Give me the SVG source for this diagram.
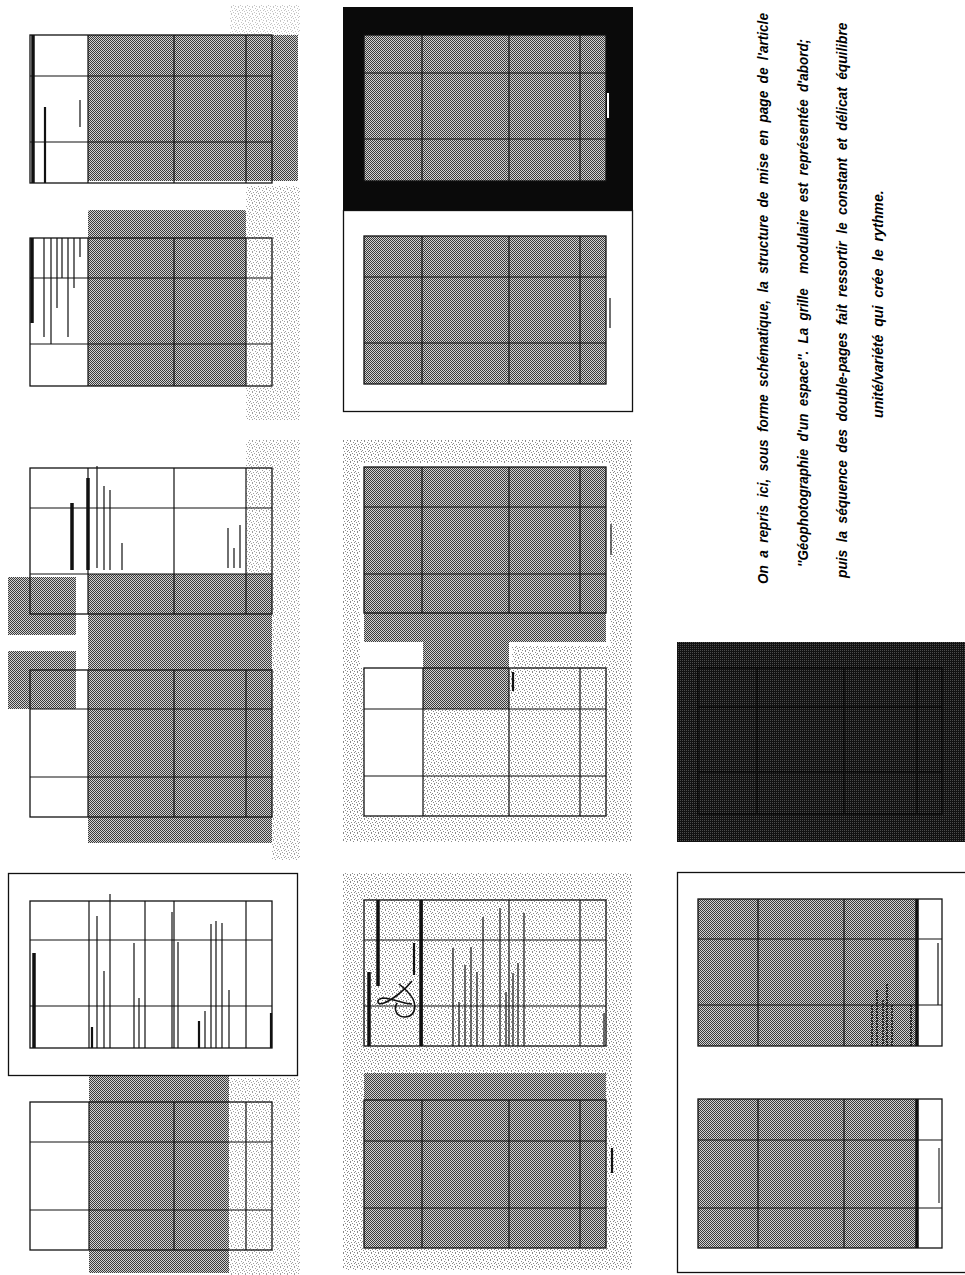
<svg xmlns="http://www.w3.org/2000/svg" width="965" height="1275" viewBox="0 0 965 1275">
<defs>
<pattern id="half" width="2" height="2" patternUnits="userSpaceOnUse"><rect width="2" height="2" fill="#d2d2d2"/><rect width="1" height="1" fill="#3a3a3a"/><rect x="1" y="1" width="1" height="1" fill="#3a3a3a"/></pattern>
<pattern id="dark" width="2" height="2" patternUnits="userSpaceOnUse"><rect width="2" height="2" fill="#121212"/><rect width="1" height="1" fill="#4c4c4c"/></pattern>
<pattern id="speck" width="7" height="7" patternUnits="userSpaceOnUse"><rect width="7" height="7" fill="#fff"/><g fill="#8a8a8a"><rect x="0" y="0" width="1" height="1"/><rect x="3" y="1" width="1" height="1"/><rect x="5" y="2" width="1" height="1"/><rect x="1" y="3" width="1" height="1"/><rect x="6" y="4" width="1" height="1"/><rect x="2" y="5" width="1" height="1"/><rect x="4" y="6" width="1" height="1"/><rect x="4" y="3" width="1" height="1"/><rect x="0" y="6" width="1" height="1"/></g></pattern>
</defs>
<style>
.sh{fill:url(#half)}
.dk{fill:url(#dark)}
.sp{fill:url(#speck)}
.pg{fill:none;stroke:#111;stroke-width:1.3}
.gl{fill:none;stroke:#111;stroke-width:1.2}
.b1{stroke:#111;stroke-width:1.2;fill:none}
.b2{stroke:#111;stroke-width:2.2;fill:none}
.b3{stroke:#111;stroke-width:3.5;fill:none}
.tx{font-family:"Liberation Sans",Arial,sans-serif;font-size:15px;font-weight:bold;font-style:italic;fill:#000;word-spacing:4px}
</style>
<rect width="965" height="1275" fill="#fff"/>

<!-- Column 1 -->
<g id="spread-1">
<rect class="sp" x="230" y="5" width="70" height="30" opacity="0.5"/>
<rect class="sh" x="88" y="35" width="210" height="146"/>
<rect class="pg" x="30" y="35" width="242" height="148"/>
<path class="gl" d="M88 35V183M174 35V183M246 35V183M30 76H272M30 142H272"/>
<path class="b3" d="M33 35V183"/>
<path class="b2" d="M45 107V183"/>
<path class="b1" d="M80 100V127"/>
</g>

<g id="spread-2">
<rect class="sp" x="246" y="186" width="54" height="234" opacity="0.8"/>
<rect class="sh" x="88" y="210" width="158" height="176" rx="2"/>
<rect class="pg" x="30" y="238" width="242" height="148"/>
<path class="gl" d="M88 238V386M174 238V386M246 238V386M30 278H272M30 344H272"/>
<path class="b3" d="M32 238V323"/>
<path class="b1" d="M44 238V337M51 238V344M57 238V308M62 238V278M68 238V337M74 238V288M80 238V257"/>
</g>

<g id="spread-3">
<rect class="sp" x="246" y="440" width="54" height="134" opacity="0.8"/>
<rect class="sp" x="272" y="574" width="28" height="286" opacity="0.8"/>
<rect class="sh" x="88" y="574" width="184" height="269"/>
<rect class="sh" x="8" y="577" width="68" height="58"/>
<rect class="sh" x="8" y="651" width="68" height="58"/>
<rect class="pg" x="30" y="468" width="242" height="146"/>
<path class="gl" d="M88 468V614M174 468V614M246 468V614M30 508H272M30 574H272"/>
<path class="b3" d="M72 503V570M88 478V570"/>
<path class="b1" d="M97 466V568M104 486V570M110 490V570M122 543V570M228 528V568M234 548V568M240 525V568"/>
<rect class="pg" x="30" y="670" width="242" height="147"/>
<path class="gl" d="M88 670V817M174 670V817M246 670V817M30 709H272M30 777H272"/>
</g>

<g id="spread-4">
<rect class="sp" x="229" y="1078" width="71" height="197" opacity="0.8"/>
<rect class="sh" x="89" y="1076" width="140" height="197"/>
<rect x="8.5" y="873.5" width="289" height="202" fill="#fff" stroke="#111" stroke-width="1.3"/>
<rect class="pg" x="30" y="901" width="242" height="147"/>
<path class="gl" d="M89 901V1048M145 901V1048M174 901V1048M246 901V1048M30 940H272M30 1006H272"/>
<path class="b3" d="M34 953V1048"/>
<path class="b2" d="M92 1027V1048M199 1021V1048M271 1013V1048"/>
<path class="b1" d="M97 916V1048M104 971V1048M110 894V1048M134 943V1048M139 998V1048M172 912V1048M178 942V1048M205 1011V1048M211 924V1048M216 921V1048M222 923V1048M229 990V1048"/>
<rect class="pg" x="30" y="1102" width="242" height="148"/>
<path class="gl" d="M89 1102V1250M174 1102V1250M246 1102V1250M30 1142H272M30 1210H272"/>
</g>

<!-- Column 2 -->
<g id="spread-5">
<rect x="343" y="7" width="290" height="203" fill="#0a0a0a"/>
<rect class="sh" x="364" y="35" width="242" height="146"/>
<rect class="pg" x="364" y="35" width="242" height="146"/>
<path class="gl" d="M422 35V181M509 35V181M580 35V181M364 73H606M364 139H606"/>
<path d="M608 93V118" stroke="#fff" stroke-width="2"/>
</g>

<g id="spread-6">
<rect x="343.5" y="210.5" width="289" height="201" fill="#fff" stroke="#111" stroke-width="1.3"/>
<rect class="sh" x="364" y="236" width="242" height="148"/>
<rect class="pg" x="364" y="236" width="242" height="148"/>
<path class="gl" d="M422 236V384M509 236V384M580 236V384M364 277H606M364 343H606"/>
<path class="b1" d="M610 298V328"/>
</g>

<g id="spread-7">
<rect class="sp" x="343" y="440" width="289" height="402"/>
<rect x="360" y="463" width="250" height="183" fill="#fff"/>
<rect x="360" y="646" width="64" height="22" fill="#fff"/>
<rect x="420" y="646" width="92" height="22" fill="#fff"/>
<rect class="sh" x="364" y="467" width="242" height="175"/>
<rect class="sh" x="423" y="642" width="86" height="67"/>
<rect x="364" y="668" width="59" height="148" fill="#fff"/>
<rect class="pg" x="364" y="467" width="242" height="146"/>
<path class="gl" d="M422 467V613M509 467V613M580 467V613M364 507H606M364 574H606"/>
<path class="b1" d="M611 524V555"/>
<rect class="pg" x="364" y="668" width="242" height="148"/>
<path class="gl" d="M423 668V816M509 668V816M580 668V816M364 709H606M364 776H606"/>
<path class="b2" d="M513 672V691"/>
</g>

<g id="spread-8">
<rect class="sp" x="343" y="873" width="289" height="397"/>
<rect class="pg" x="364" y="900" width="242" height="146"/>
<path class="gl" d="M422 900V1046M509 900V1046M580 900V1046M364 940H606M364 1006H606"/>
<path class="b3" d="M369 972V1046M378 900V986M421 900V1046"/>
<path class="b2" d="M414 943V975"/>
<path class="b1" d="M453 948V1046M459 1002V1046M465 965V1046M471 947V1046M477 972V1046M483 917V1046M500 908V1046M506 992V1046M513 973V1046M518 963V1046M524 913V1046M604 1013V1046"/>
<path d="M412 981C405 990 392 1000 384 1003C376 1006 376 999 383 998C392 998 403 1004 412 1004M397 1003C393 1010 397 1017 405 1017C414 1017 417 1008 413 999C410 993 404 988 399 984" fill="none" stroke="#111" stroke-width="1.6"/>
<rect class="sh" x="364" y="1073" width="242" height="175"/>
<rect class="pg" x="364" y="1100" width="242" height="148"/>
<path class="gl" d="M422 1100V1248M509 1100V1248M580 1100V1248M364 1141H606M364 1208H606"/>
<path class="b2" d="M612 1148V1173"/>
</g>

<!-- Column 3 -->
<g id="spread-9">
<rect class="dk" x="677" y="642" width="288" height="200"/>
<g stroke="#000" stroke-width="1.6" fill="none" opacity="0.6">
<rect x="698" y="668" width="244" height="146"/>
<path d="M757 668V814M844 668V814M917 668V814M698 707H942M698 772H942"/>
</g>
</g>

<g id="spread-10">
<rect x="677.5" y="872.5" width="300" height="400" fill="#fff" stroke="#111" stroke-width="1.3"/>
<rect class="sh" x="698" y="899" width="219" height="147"/>
<rect class="pg" x="698" y="899" width="244" height="147"/>
<path class="gl" d="M758 899V1046M844 899V1046M698 939H942M698 1005H942"/>
<path class="b3" d="M917 899V1046"/>
<path class="b1" d="M938 943V1005"/>
<path stroke="#111" stroke-width="1.6" stroke-dasharray="2 1" fill="none" d="M872 1005V1046M877 990V1046M883 1000V1046M887 984V1046M892 1005V1046M911 1005V1046"/>
<rect class="sh" x="698" y="1099" width="219" height="149"/>
<rect class="pg" x="698" y="1099" width="244" height="149"/>
<path class="gl" d="M758 1099V1248M844 1099V1248M698 1140H942M698 1208H942"/>
<path class="b3" d="M917 1099V1248"/>
<path d="M939 1148V1203" stroke="#555" stroke-width="1.5"/>
</g>

<!-- Caption -->
<g id="caption">
<text class="tx" transform="translate(768,584) rotate(-90) scale(0.78,1)" textLength="732" lengthAdjust="spacingAndGlyphs">On a repris ici, sous forme schématique, la structure de mise en page de l'article</text>
<text class="tx" transform="translate(808,567) rotate(-90) scale(0.78,1)" textLength="677" lengthAdjust="spacingAndGlyphs" xml:space="preserve">''Géophotographie d'un espace''. La grille  modulaire est représentée d'abord;</text>
<text class="tx" transform="translate(847,578) rotate(-90) scale(0.78,1)" textLength="712" lengthAdjust="spacingAndGlyphs">puis la séquence des double-pages fait ressortir le constant et délicat équilibre</text>
<text class="tx" transform="translate(883,418) rotate(-90) scale(0.78,1)" textLength="292" lengthAdjust="spacingAndGlyphs">unité/variété qui crée le rythme.</text>
</g>
</svg>
